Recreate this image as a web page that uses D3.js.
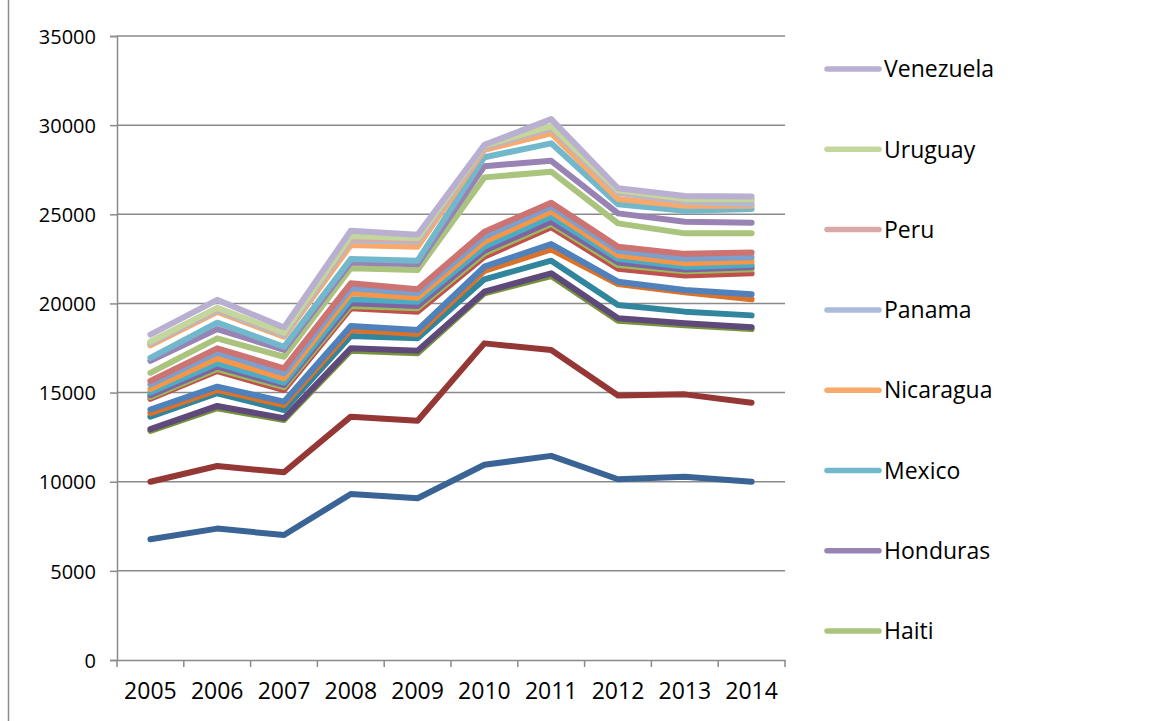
<!DOCTYPE html>
<html>
<head>
<meta charset="utf-8">
<script src="https://cdn.jsdelivr.net/npm/d3@7"></script>
<style>
  body { margin: 0; background: #fff; }
  text { font-family: "Open Sans", "Liberation Sans", sans-serif; fill: #000; }
</style>
</head>
<body>
<svg id="chart" width="1172" height="721"></svg>
<script>
// years on the x axis
const years = [2005, 2006, 2007, 2008, 2009, 2010, 2011, 2012, 2013, 2014]

// series in stacking order (first = bottom)
const countries = ["Argentina", "Bahamas", "Barbados", "Belize", "Bolivia", "Brazil", "Chile",
  "Colombia", "Costa Rica", "Dominican Republic", "Ecuador", "El Salvador", "Guatemala", "Guyana",
  "Haiti", "Honduras", "Mexico", "Nicaragua", "Panama", "Peru", "Uruguay", "Venezuela"]

// excel-like palette: darker, normal, lighter, lightest
const colors = ["#3b6496", "#953735", "#77933c", "#5f497a", "#31859c", "#d9722a",
  "#4f81bd", "#c0504d", "#9bbb59", "#8064a2", "#4bacc6", "#f79646",
  "#7ba0cd", "#cd7371", "#aac47e", "#9983b5", "#72b8cd", "#f9a96b",
  "#a9bddb", "#d9a9a8", "#c3d69b", "#b9afd0"]

// one row per country, one value per year
const values = [
  [6770, 7370, 7010, 9310, 9070, 10950, 11450, 10140, 10280, 10000],
  [3230, 3510, 3520, 4340, 4350, 6810, 5940, 4690, 4620, 4430],
  [2850, 3240, 2930, 3700, 3780, 2810, 4150, 4200, 3870, 4130],
  [100, 130, 100, 130, 150, 90, 150, 140, 120, 100],
  [700, 710, 460, 690, 690, 690, 710, 740, 650, 670],
  [200, 180, 280, 340, 250, 480, 630, 1180, 1080, 900],
  [200, 190, 190, 220, 220, 230, 300, 130, 130, 280],
  [600, 880, 650, 1000, 1030, 560, 940, 730, 810, 1180],
  [100, 110, 160, 130, 190, 190, 190, 200, 240, 220],
  [100, 130, 120, 150, 130, 150, 130, 150, 100, 120],
  [150, 190, 140, 220, 240, 220, 280, 200, 150, 140],
  [200, 280, 240, 340, 220, 280, 280, 200, 200, 190],
  [250, 320, 280, 280, 250, 280, 280, 250, 250, 230],
  [200, 240, 280, 280, 220, 280, 220, 230, 280, 260],
  [450, 560, 650, 850, 1090, 3050, 1740, 1310, 1150, 1080],
  [680, 520, 380, 320, 320, 630, 610, 560, 650, 600],
  [170, 360, 180, 190, 200, 500, 980, 510, 620, 770],
  [700, 610, 560, 790, 780, 420, 560, 300, 280, 180],
  [100, 100, 100, 270, 280, 130, 280, 350, 230, 100],
  [50, 70, 70, 100, 90, 50, 80, 90, 90, 220],
  [50, 50, 50, 130, 100, 50, 50, 50, 50, 50],
  [400, 450, 300, 300, 200, 50, 390, 110, 180, 150]
]

const yTicks = [0, 5000, 10000, 15000, 20000, 25000, 30000, 35000]

// only the last eight show in the (cut off) legend, top = last series
const legendNames = countries.slice(14).reverse()

const svg = d3.select("#chart")
const plot = {left: 117, right: 785, top: 36, bottom: 660}

//build table for stacking
const table = years.map((yr, i) => {
  const row = {year: yr}
  countries.forEach((c, j) => { row[c] = values[j][i] })
  return row
})
const stacked = d3.stack().keys(countries)(table)

const x = d3.scaleBand().domain(years).range([plot.left, plot.right])
const y = d3.scaleLinear().domain([0, 35000]).range([plot.bottom, plot.top])
const color = d3.scaleOrdinal().domain(countries).range(colors)

// outer border line on the left
svg.append("line")
  .attr("x1", 8.5).attr("x2", 8.5).attr("y1", 0).attr("y2", 721)
  .attr("stroke", "#8c8c8c").attr("stroke-width", 1.5)

// gridlines
svg.append("g")
  .selectAll("line")
  .data(yTicks.slice(1))
  .enter().append("line")
  .attr("x1", plot.left).attr("x2", plot.right)
  .attr("y1", d => y(d)).attr("y2", d => y(d))
  .attr("stroke", "#8a8a8a").attr("stroke-width", 1.5)

// y axis
const yAxis = svg.append("g")
  .attr("transform", `translate(${plot.left},0)`)
  .call(d3.axisLeft(y).tickValues(yTicks).tickSize(7).tickPadding(14).tickFormat(d3.format("d")))
yAxis.select(".domain").attr("stroke", "#8a8a8a").attr("stroke-width", 1.5)
yAxis.selectAll(".tick line").attr("stroke", "#8a8a8a").attr("stroke-width", 1.5)
yAxis.selectAll(".tick text").attr("font-size", 20).attr("font-family", null).attr("dy", "0.36em")

// x axis, ticks between categories
const xAxis = svg.append("g")
  .attr("transform", `translate(0,${plot.bottom})`)
  .call(d3.axisBottom(x).tickSize(0).tickPadding(23))
xAxis.select(".domain").attr("stroke", "#8a8a8a").attr("stroke-width", 1.5)
xAxis.selectAll(".tick text").attr("font-size", 23).attr("font-family", null)
xAxis.selectAll(".sep")
  .data(years.concat(["end"]))
  .enter().append("line")
  .attr("class", "sep")
  .attr("x1", (d, i) => plot.left + i * x.step()).attr("x2", (d, i) => plot.left + i * x.step())
  .attr("y1", 0).attr("y2", 7)
  .attr("stroke", "#8a8a8a").attr("stroke-width", 1.5)

// lines
const line = d3.line()
  .x(d => x(d.data.year) + x.bandwidth() / 2)
  .y(d => y(d[1]))

svg.append("g")
  .selectAll("path")
  .data(stacked)
  .enter().append("path")
  .attr("d", line)
  .attr("fill", "none")
  .attr("stroke", d => color(d.key))
  .attr("stroke-width", 6)
  .attr("stroke-linecap", "round")
  .attr("stroke-linejoin", "round")

// legend
const legend = svg.append("g")
  .selectAll("g")
  .data(legendNames)
  .enter().append("g")
  .attr("transform", (d, i) => `translate(825,${69 + i * 80.3})`)
legend.append("line")
  .attr("x1", 2).attr("x2", 54)
  .attr("stroke", d => color(d))
  .attr("stroke-width", 5.5)
  .attr("stroke-linecap", "round")
legend.append("text")
  .attr("x", 59).attr("dy", "0.36em")
  .attr("font-size", 23)
  .text(d => d)
</script>
</body>
</html>
